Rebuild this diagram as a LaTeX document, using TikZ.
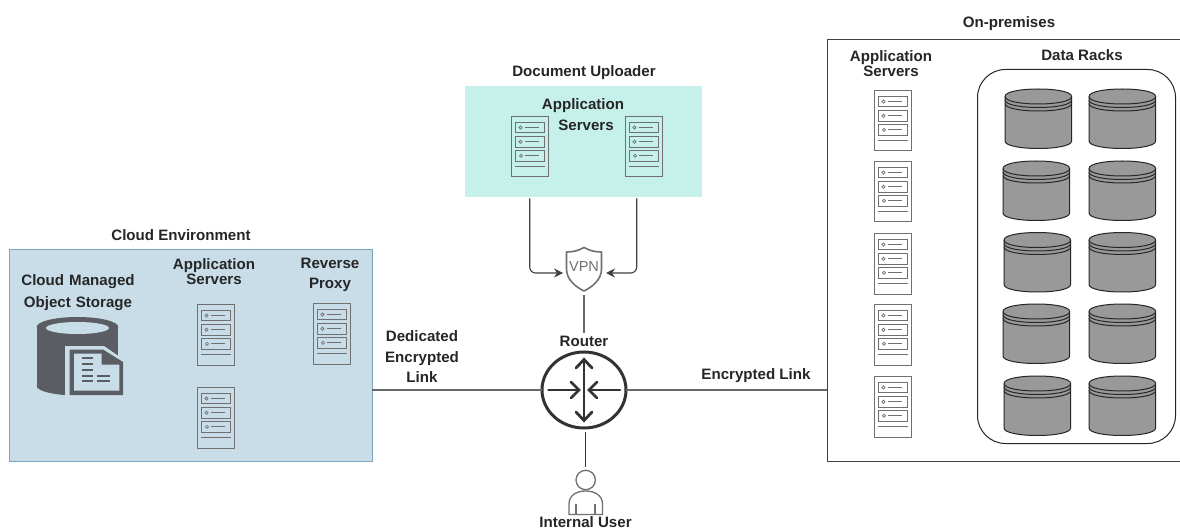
\documentclass[tikz,border=0pt]{standalone}
\usepackage{fontspec}
\setmainfont{Liberation Sans}
\usetikzlibrary{arrows.meta,shapes.geometric}
\definecolor{cloudfill}{HTML}{C9DDE9}
\definecolor{cloudline}{HTML}{7FA3BF}
\definecolor{upfill}{HTML}{C6F1EA}
\definecolor{srv}{HTML}{707070}
\definecolor{dbdark}{HTML}{5A5E62}
\definecolor{cyl}{HTML}{999999}
\definecolor{rtr}{HTML}{333333}
\definecolor{lnk}{HTML}{66686B}
\tikzset{
  lbl/.style={font=\bfseries\fontsize{15.1}{18}\selectfont,text=black!85,inner sep=0pt,align=center},
  box/.style={inner sep=0pt,outer sep=0pt,anchor=north west},
  link/.style={draw=lnk,line width=1.6pt},
  thinlink/.style={draw=black!75,line width=1.1pt,rounded corners=6pt,-{Stealth[length=9pt,width=9pt]}},
  server/.pic={
    \node[box,draw=srv,line width=1pt,minimum width=36.5pt,minimum height=60.5pt] (-body) at (0,0) {};
    \foreach \t/\b/\o in {6/16/0,20/30.5/0,34/44.7/0.5}{
      \draw[srv,line width=0.9pt] (3.5+\o,\t) rectangle (32.5+\o,\b);
      \draw[srv,line width=0.7pt] (9+\o,\t/2+\b/2) circle (1.6);
      \draw[srv,line width=0.9pt] (13+\o,\t/2+\b/2) -- (27+\o,\t/2+\b/2);
    }
    \draw[srv,line width=1pt] (3,50) -- (33.5,50);
  },
  disk/.pic={
    \path[fill=cyl,draw=black!85,line width=1pt] (0,7.5) -- (0,52) .. controls (0,62) and (66.6,62) .. (66.6,52) -- (66.6,7.5) .. controls (66.6,-2.5) and (0,-2.5) .. (0,7.5) -- cycle;
    \foreach \d in {7.5,11,14.5}{
      \draw[black!85,line width=1pt] (0,\d) .. controls (0,\d+10) and (66.6,\d+10) .. (66.6,\d);
    }
  }
}
\begin{document}
\begin{tikzpicture}[x=1pt,y=-1pt]
\useasboundingbox (0,0) rectangle (1180,529);
\fill[white] (0,0) rectangle (1180,529);

% Cloud environment
\node[box,draw=cloudline,fill=cloudfill,line width=1pt,minimum width=362.5pt,minimum height=212pt] (cloudbox) at (9.5,249.5) {};
\node[lbl] (cloudtitle) at (181,235) {Cloud Environment};
\node[lbl,text width=130pt] (cloudmanaged) at (78,292.5) {Cloud Managed\\[3.5pt]Object Storage};
\node[lbl] (cloudapp) at (214,271.5) {Application\\[-3pt]Servers};
\node[lbl] (proxylbl) at (330,275) {Reverse\\[2.5pt]Proxy};
\pic (cs1) at (197.5,304.5) {server};
\pic (cs2) at (197.5,387.5) {server};
\pic (cs3) at (313.5,303.5) {server};

% Object storage icon
\fill[dbdark] (77.5,327) ellipse[x radius=40.8,y radius=10];
\fill[dbdark] (36.7,327) rectangle (118.3,386);
\fill[dbdark] (77.5,386) ellipse[x radius=40.8,y radius=9.5];
\fill[cloudfill] (77.5,328) ellipse[x radius=31.5,y radius=6];
\fill[cloudfill] (65,346) -- (104,346) -- (125,360.5) -- (125,396) -- (65,396) -- cycle;
\fill[dbdark] (69.5,349.5) -- (103,349.5) -- (123,362) -- (123,395) -- (69.5,395) -- cycle;
\fill[cloudfill] (74,353.5) -- (101.7,353.5) -- (101.7,364.5) -- (119.3,364.5) -- (119.3,390.7) -- (74,390.7) -- cycle;
\foreach \y/\a/\b in {358.3/81.7/93.3,364/81.7/93.3,370/81.7/93.3,375.5/81.7/93.3,381/81.7/93.3,375.5/97.3/110,381/97.3/110}{
  \draw[dbdark,line width=2pt] (\a,\y) -- (\b,\y);
}

% Document uploader
\node[box,fill=upfill,minimum width=237pt,minimum height=111pt] (upbox) at (465,86) {};
\node[lbl] (uptitle) at (584,72.5) {Document Uploader};
\node[lbl] (upapp1) at (583,105.5) {Application};
\node[lbl] (upapp2) at (586,125) {Servers};
\pic (us1) at (511.5,116.5) {server};
\pic (us2) at (625.5,116.5) {server};

% VPN shield
\node[inner sep=0pt,minimum width=36pt,minimum height=44pt] (vpn) at (584,269) {};
\draw[srv,line width=1.6pt,line join=round] (584,247.5) .. controls (590,251) and (596,252) .. (601.5,252) -- (601.5,269) .. controls (601.5,280) and (592,287) .. (584,291) .. controls (576,287) and (566.5,280) .. (566.5,269) -- (566.5,252) .. controls (572,252) and (578,251) .. (584,247.5) -- cycle;
\node[font=\fontsize{14.5}{16}\selectfont,text=srv,inner sep=0pt] (vpntext) at (584,267) {VPN};

% Router
\node[ellipse,draw=rtr,line width=3pt,minimum width=84pt,minimum height=76pt,inner sep=0pt,outer sep=0pt] (router) at (584,390) {};
\node[lbl] (routerlbl) at (584,341) {Router};
\begin{scope}[draw=rtr,line width=2.8pt,line cap=round,line join=miter]
\draw[rtr] (584,360) -- (584,420);
\draw[rtr] (576,368) -- (584,359.5) -- (592,368);
\draw[rtr] (576,412) -- (584,420.5) -- (592,412);
\draw[rtr] (548.5,390) -- (578,390);
\draw[rtr] (571,382) -- (579,390) -- (571,398);
\draw[rtr] (620,390) -- (590,390);
\draw[rtr] (597,382) -- (589,390) -- (597,398);
\end{scope}

% On-premises
\fill[white] (827,39) rectangle (1180,461);
\draw[black!75,line width=1pt] (1180,39.5) -- (827.5,39.5) -- (827.5,461.5) -- (1180,461.5);
\coordinate (premedge) at (827,390);
\node[lbl] (premtitle) at (1009,23.5) {On-premises};
\node[lbl] (premapp) at (891,63.5) {Application\\[-3pt]Servers};
\node[lbl] (racks) at (1082,55) {Data Racks};
\node[box,draw=black!85,line width=1pt,rounded corners=28pt,minimum width=198pt,minimum height=374pt] (rackbox) at (977.5,69.5) {};
\foreach \n/\y in {1/90.5,2/161.5,3/233.5,4/304.5,5/376.5}{
  \pic (ps\n) at (874.5,\y) {server};
}
\foreach \x/\y in {1005/89,1089/89,1003/161,1089/161,1004/232.5,1089/232.5,1003/304,1089/304,1004/376,1089/376}{
  \pic at (\x,\y) {disk};
}

% User
\draw[srv,line width=1.3pt] (585.7,480) circle (9.7);
\draw[srv,line width=1.3pt] (569,514.5) -- (569,504) .. controls (569,495) and (577,491) .. (585.7,491) .. controls (594,491) and (602.5,495) .. (602.5,504) -- (602.5,514.5) -- cycle;
\draw[srv,line width=1.6pt] (576,504) -- (576,514) (595,504) -- (595,514);
\coordinate (userhead) at (585.3,467);
\node[lbl] (userlbl) at (585.5,522) {Internal User};

% Connector labels
\node[lbl] (dedlbl) at (422,357) {Dedicated\\[2.5pt]Encrypted\\[2.5pt]Link};
\node[lbl] (enclbl) at (756,375.5) {Encrypted Link};

% Connectors
\draw[link] (cloudbox.east |- router.west) -- (router.west);
\draw[link] (router.east) -- (premedge);
\draw[draw=black!80,line width=1.1pt] (585.3,432) -- (userhead);
\draw[draw=lnk,line width=1.3pt] (584,295) -- (584,333);
\coordinate (upL) at (529.7,198.5);
\coordinate (upR) at (636.7,198.5);
\draw[thinlink] (upL) |- (563,273);
\draw[thinlink] (upR) |- (606,273);
\end{tikzpicture}
\end{document}
